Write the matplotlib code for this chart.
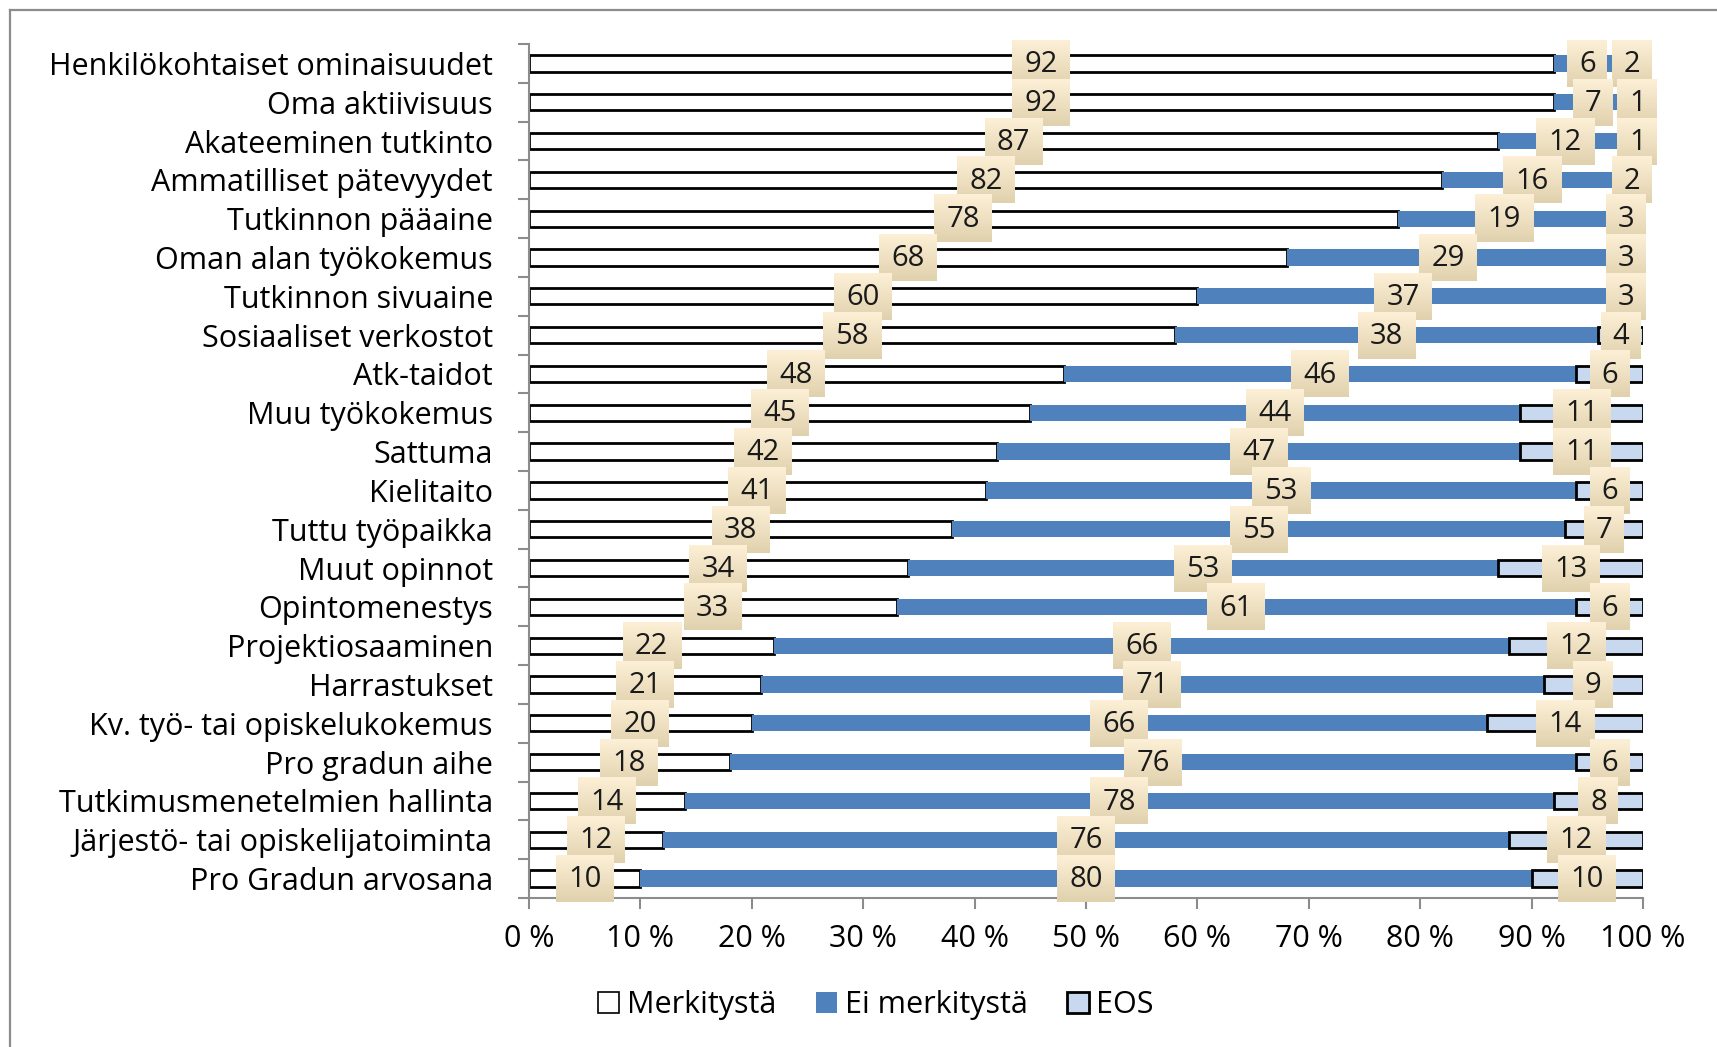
import numpy as np
import matplotlib.pyplot as plt
from matplotlib.patches import Patch

plt.rcParams['font.family'] = ['Open Sans', 'DejaVu Sans']

# data, top to bottom
categories = [
    "Henkilökohtaiset ominaisuudet", "Oma aktiivisuus", "Akateeminen tutkinto",
    "Ammatilliset pätevyydet", "Tutkinnon pääaine", "Oman alan työkokemus",
    "Tutkinnon sivuaine", "Sosiaaliset verkostot", "Atk-taidot", "Muu työkokemus",
    "Sattuma", "Kielitaito", "Tuttu työpaikka", "Muut opinnot", "Opintomenestys",
    "Projektiosaaminen", "Harrastukset", "Kv. työ- tai opiskelukokemus",
    "Pro gradun aihe", "Tutkimusmenetelmien hallinta",
    "Järjestö- tai opiskelijatoiminta", "Pro Gradun arvosana",
]
merkitysta = [92, 92, 87, 82, 78, 68, 60, 58, 48, 45, 42, 41, 38, 34, 33, 22, 21, 20, 18, 14, 12, 10]
ei_merkitysta = [6, 7, 12, 16, 19, 29, 37, 38, 46, 44, 47, 53, 55, 53, 61, 66, 71, 66, 76, 78, 76, 80]
eos = [2, 1, 1, 2, 3, 3, 3, 4, 6, 11, 11, 6, 7, 13, 6, 12, 9, 14, 6, 8, 12, 10]
series_names = ["Merkitystä", "Ei merkitystä", "EOS"]
xticks = [0, 10, 20, 30, 40, 50, 60, 70, 80, 90, 100]

W, H = 1717, 1047
fig = plt.figure(figsize=(W / 100, H / 100), dpi=100)
ax_l, ax_r, ax_t, ax_b = 529, 1643, 44, 898
ax = fig.add_axes([ax_l / W, 1 - ax_b / H, (ax_r - ax_l) / W, (ax_b - ax_t) / H])

# outer frame of the original chart area (cropped)
fig.add_artist(plt.Line2D([10 / W, 10 / W], [0, 1 - 10 / H], color='#8c8c8c', lw=1.6))
fig.add_artist(plt.Line2D([10 / W, 1], [1 - 10 / H, 1 - 10 / H], color='#8c8c8c', lw=1.6))

vals = np.array([merkitysta, ei_merkitysta, eos], dtype=float)
pct = vals / vals.sum(axis=0) * 100
y = np.arange(len(categories))
bh = 0.42

left = np.zeros(len(categories))
styles = [
    dict(color='white', edgecolor='black', linewidth=2),
    dict(color='#4f81bd', edgecolor='none'),
    dict(color='#c8d8ef', edgecolor='black', linewidth=2),
]
for i in range(3):
    ax.barh(y, pct[i], left=left, height=bh, zorder=2, **styles[i])
    left += pct[i]

# data labels with beige gradient boxes
px_x = 100 / (ax_r - ax_l)
px_y = len(categories) / (ax_b - ax_t)
grad = np.linspace(0, 1, 50)[:, None, None]
top_c = np.array([0.99, 0.94, 0.84])
bot_c = np.array([0.88, 0.82, 0.68])
grad_img = top_c * (1 - grad) + bot_c * grad
left = np.zeros(len(categories))
for i in range(3):
    for j in range(len(categories)):
        cx = left[j] + pct[i][j] / 2
        s = str(int(vals[i][j]))
        bw = (22 + 18 * len(s)) * px_x
        bhh = 47 * px_y
        z = 5 + j * 0.1 + i * 0.01
        ax.imshow(grad_img, extent=(cx - bw / 2, cx + bw / 2, y[j] + bhh / 2, y[j] - bhh / 2),
                  aspect='auto', zorder=z, interpolation='bilinear', clip_on=False)
        ax.text(cx, y[j] + 0.03, s, ha='center', va='center', fontsize=21,
                color='#1a1a1a', zorder=z + 0.005, clip_on=False)
    left += pct[i]
ax.set_xlim(0, 100)
ax.set_ylim(len(categories) - 0.5, -0.5)

# axes styling
for sp in ['top', 'right']:
    ax.spines[sp].set_visible(False)
ax.spines['left'].set_color('#8c8c8c')
ax.spines['bottom'].set_color('#8c8c8c')
ax.spines['left'].set_linewidth(1.5)
ax.spines['bottom'].set_linewidth(1.5)

ax.set_xticks(xticks)
ax.set_xticklabels([f"{v} %" for v in xticks], fontsize=22)
ax.tick_params(axis='x', length=8, color='#8c8c8c', width=1.5, pad=11)

ax.set_yticks(np.arange(len(categories) + 1) - 0.5)
ax.set_yticklabels([])
ax.tick_params(axis='y', which='major', length=8, color='#8c8c8c', width=1.5)
ax.set_yticks(y, minor=True)
ax.set_yticklabels(categories, minor=True, fontsize=22)
ax.tick_params(axis='y', which='minor', length=0, pad=26)

handles = [
    Patch(facecolor='white', edgecolor='black', linewidth=1.2),
    Patch(facecolor='#4f81bd', edgecolor='none'),
    Patch(facecolor='#c8d8ef', edgecolor='black', linewidth=2),
]
fig.legend(handles, series_names, loc='center', bbox_to_anchor=(0.51, 0.04), ncol=3,
           frameon=False, fontsize=22, handlelength=0.7, handleheight=0.7,
           handletextpad=0.25, columnspacing=1.3)

fig.savefig('out.png', dpi=100)
